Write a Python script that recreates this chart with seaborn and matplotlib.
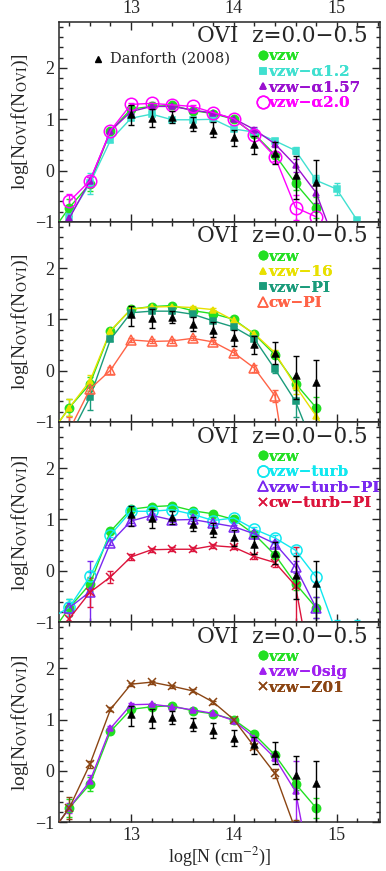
import numpy as np
import pandas as pd
import matplotlib
matplotlib.use("Agg")
import matplotlib.pyplot as plt
import matplotlib.ticker as ticker
from matplotlib.lines import Line2D
import seaborn as sns

nan = np.nan
logN = [12.2, 12.4, 12.6, 12.8, 13.0, 13.2, 13.4, 13.6, 13.8, 14.0, 14.2, 14.4, 14.6, 14.8, 15.0, 15.2]

# Danforth (2008) observations
dan_x = [13.0, 13.2, 13.4, 13.6, 13.8, 14.0, 14.2, 14.4, 14.6, 14.8]
dan_y = [1.10, 1.03, 1.05, 0.91, 0.80, 0.65, 0.52, 0.35, -0.08, -0.23]
dan_lo = [0.22, 0.19, 0.13, 0.13, 0.15, 0.17, 0.19, 0.22, 0.47, 0.90]
dan_hi = [0.17, 0.17, 0.12, 0.13, 0.14, 0.15, 0.15, 0.21, 0.37, 0.43]

# model curves
vzw = [-1.28, -0.72, -0.26, 0.77, 1.20, 1.25, 1.27, 1.17, 1.11, 1.00, 0.71, 0.31, -0.25, -0.72, nan, nan]
vzw_err = [0.1, 0.17, 0.14, 0.05, 0.04, 0.03, 0.03, 0.03, 0.03, 0.03, 0.04, 0.06, 0.12, 0.2, nan, nan]
a12 = [nan, -0.9, -0.25, 0.59, 1.02, 1.10, 0.99, 0.99, 1.00, 0.81, 0.75, 0.58, 0.39, -0.19, -0.36, -0.97]
a12_err = [nan, 0.1, 0.2, 0.04, 0.03, 0.03, 0.03, 0.03, 0.03, 0.03, 0.04, 0.05, 0.06, 0.1, 0.12, 0.05]
a157 = [nan, -0.93, -0.20, 0.77, 1.15, 1.25, 1.25, 1.18, 1.12, 1.01, 0.80, 0.52, 0.10, -0.43, -1.5, nan]
a157_err = [nan, 0.1, 0.08, 0.04, 0.03, 0.03, 0.03, 0.03, 0.03, 0.03, 0.04, 0.06, 0.12, 0.2, nan, nan]
a20 = [nan, -0.60, -0.20, 0.78, 1.29, 1.31, 1.28, 1.25, 1.13, 1.01, 0.70, 0.27, -0.72, -0.90, nan, nan]
a20_err = [nan, 0.15, 0.08, 0.04, 0.03, 0.03, 0.03, 0.03, 0.03, 0.03, 0.04, 0.08, 0.25, 0.2, nan, nan]
v16 = [-1.28, -0.72, -0.20, 0.78, 1.20, 1.24, 1.25, 1.23, 1.19, 0.98, 0.72, 0.35, -0.30, -0.88, -1.5, nan]
v16_err = [0.1, 0.17, 0.12, 0.04, 0.03, 0.03, 0.03, 0.03, 0.03, 0.03, 0.04, 0.06, 0.15, 0.2, nan, nan]
vPI = [nan, -1.3, -0.52, 0.61, 1.13, 1.16, 1.16, 1.10, 0.97, 0.85, 0.62, 0.03, -0.60, -1.6, nan, nan]
vPI_err = [nan, 0.2, 0.25, 0.04, 0.03, 0.03, 0.03, 0.03, 0.03, 0.03, 0.04, 0.08, 0.3, nan, nan, nan]
cwPI = [nan, -1.16, -0.36, 0.01, 0.60, 0.57, 0.58, 0.63, 0.56, 0.35, 0.05, -0.49, -3.0, nan, nan, nan]
cwPI_err = [nan, 0.25, 0.12, 0.07, 0.04, 0.04, 0.04, 0.04, 0.04, 0.05, 0.07, 0.12, nan, nan, nan, nan]
turb = [-0.95, -0.71, -0.11, 0.70, 1.16, 1.16, 1.19, 1.10, 0.98, 1.03, 0.81, 0.64, 0.40, -0.12, -1.22, -1.25]
turb_err = [nan, 0.17, 0.08, 0.04, 0.03, 0.03, 0.03, 0.03, 0.03, 0.03, 0.04, 0.05, 0.06, 0.1, 0.27, 0.3]
tPI = [nan, -0.72, -0.41, 0.55, 0.97, 1.08, 0.99, 1.00, 0.93, 0.86, 0.72, 0.53, 0.07, -0.72, nan, nan]
tPI_err = [nan, 0.1, 0.6, 0.05, 0.04, 0.03, 0.03, 0.03, 0.03, 0.03, 0.04, 0.06, 0.12, 0.2, nan, nan]
cwtPI = [nan, -0.93, -0.42, -0.12, 0.27, 0.41, 0.42, 0.42, 0.49, 0.46, 0.28, 0.16, -0.29, -2.5, nan, nan]
cwtPI_err = [nan, 0.1, 0.28, 0.12, 0.05, 0.04, 0.04, 0.04, 0.04, 0.04, 0.05, 0.08, 0.75, nan, nan, nan]
sig0 = [-1.28, -0.72, -0.20, 0.83, 1.29, 1.30, 1.25, 1.19, 1.12, 0.98, 0.65, 0.25, -0.40, -2.5, nan, nan]
sig0_err = [nan, 0.1, 0.12, 0.04, 0.03, 0.03, 0.03, 0.03, 0.03, 0.03, 0.04, 0.06, 0.6, nan, nan, nan]
z01 = [-1.28, -0.72, 0.13, 1.20, 1.69, 1.73, 1.65, 1.56, 1.34, 1.00, 0.47, -0.05, -1.15, nan, nan, nan]
z01_err = [nan, 0.22, 0.07, 0.04, 0.03, 0.03, 0.03, 0.03, 0.03, 0.03, 0.05, 0.08, 0.2, nan, nan, nan]

# (label, values, errors, colour, marker, filled, size)
panels = [
    [("vzw", vzw, vzw_err, "#22e022", "o", True, 6),
     ("vzw−α1.2", a12, a12_err, "#40e0d0", "s", True, 4.5),
     ("vzw−α1.57", a157, a157_err, "#9a10d0", "^", True, 5),
     ("vzw−α2.0", a20, a20_err, "#ff00ff", "o", False, 9)],
    [("vzw", vzw, vzw_err, "#22e022", "o", True, 6),
     ("vzw−16", v16, v16_err, "#e8e000", "^", True, 5),
     ("vzw−PI", vPI, vPI_err, "#1a9b7b", "s", True, 5),
     ("cw−PI", cwPI, cwPI_err, "#ff6347", "^", False, 7)],
    [("vzw", vzw, vzw_err, "#22e022", "o", True, 6),
     ("vzw−turb", turb, turb_err, "#10e8f0", "o", False, 8),
     ("vzw−turb−PI", tPI, tPI_err, "#7a28f0", "^", False, 7),
     ("cw−turb−PI", cwtPI, cwtPI_err, "#dc143c", "x", True, 6)],
    [("vzw", vzw, vzw_err, "#22e022", "o", True, 6),
     ("vzw−0sig", sig0, sig0_err, "#a020f0", "^", True, 5),
     ("vzw−Z01", z01, z01_err, "#8b4513", "x", True, 6)],
]

sns.set_style("ticks")
plt.rcParams["font.family"] = ["Liberation Serif", "DejaVu Serif"]
plt.rcParams["mathtext.fontset"] = "stix"

fig, axes = plt.subplots(4, 1, figsize=(3.86, 8.71), dpi=100, sharex=True)
fig.subplots_adjust(left=0.153, right=0.984, top=0.975, bottom=0.056, hspace=0)

for pi, (ax, series) in enumerate(zip(axes, panels)):
    handles = []
    for label, vals, errs, col, mk, filled, ms in series:
        df = pd.DataFrame({"x": logN, "y": vals, "e": errs})
        df = df.dropna(subset=["y"])
        ax.errorbar(df["x"], df["y"], yerr=df["e"].fillna(0), fmt="none",
                    ecolor=col, elinewidth=1, capsize=2.5, capthick=1, zorder=2)
        fc = col if filled else "none"
        sns.lineplot(data=df, x="x", y="y", ax=ax, color=col, linewidth=1,
                     marker=mk, markersize=ms, markerfacecolor=fc,
                     markeredgecolor=col, markeredgewidth=1.1,
                     estimator=None, errorbar=None, sort=False, zorder=3)
        handles.append(Line2D([], [], color=col, marker=mk, ls="none",
                              markersize=ms, markerfacecolor=fc,
                              markeredgecolor=col, markeredgewidth=1.1))
    # Danforth data
    ax.errorbar(dan_x, dan_y, yerr=[dan_lo, dan_hi], fmt="none", ecolor="black",
                elinewidth=1, capsize=2.5, capthick=1, zorder=4)
    sns.scatterplot(x=dan_x, y=dan_y, ax=ax, color="black", marker="^", s=30,
                    edgecolor="black", zorder=5)

    leg = ax.legend(handles=handles, labels=[s[0] for s in series],
                    loc="upper left", bbox_to_anchor=(0.62, 0.862), frameon=False,
                    handlelength=0.6, handletextpad=0.1, labelspacing=0.1,
                    borderaxespad=0, borderpad=0,
                    prop={"family": "DejaVu Serif", "size": 11, "weight": "bold"})
    for txt, s in zip(leg.get_texts(), series):
        txt.set_color(s[3])
    ax.add_artist(leg)

    if pi == 0:
        ax.plot([0.12], [0.815], marker="^", color="black", markersize=5,
                transform=ax.transAxes, clip_on=False)
        ax.text(0.158, 0.815, "Danforth (2008)", transform=ax.transAxes,
                fontsize=10.5, va="center", ha="left", family="DejaVu Serif")

    ax.text(0.963, 0.897, "OVI  z=0.0−0.5", transform=ax.transAxes,
            ha="right", va="baseline", fontsize=15.5, family="DejaVu Serif")

    ax.set_xlim(12.3, 15.42)
    ax.set_ylim(-1, 2.9)
    ax.xaxis.set_major_locator(ticker.MultipleLocator(1))
    ax.xaxis.set_minor_locator(ticker.MultipleLocator(0.2))
    ax.yaxis.set_major_locator(ticker.MultipleLocator(1))
    ax.yaxis.set_minor_locator(ticker.MultipleLocator(0.2))
    ax.tick_params(which="both", direction="in", top=True, right=True,
                   labelsize=13, width=1)
    ax.tick_params(which="major", length=6)
    ax.tick_params(which="minor", length=3)
    ax.tick_params(axis="x", labeltop=(pi == 0), labelbottom=(pi == 3))
    for sp in ax.spines.values():
        sp.set_linewidth(1.1)
    ax.set_ylabel(r"log[N$_{\rm OVI}$f(N$_{\rm OVI}$)]", fontsize=14, labelpad=3)
    ax.set_xlabel("")
    ax.yaxis.set_major_formatter(ticker.FuncFormatter(lambda v, p: f"{v:.0f}".replace("-", "−")))

axes[-1].set_xlabel(r"log[N (cm$^{-2}$)]", fontsize=13, labelpad=1)

fig.savefig("out.png", dpi=100)
